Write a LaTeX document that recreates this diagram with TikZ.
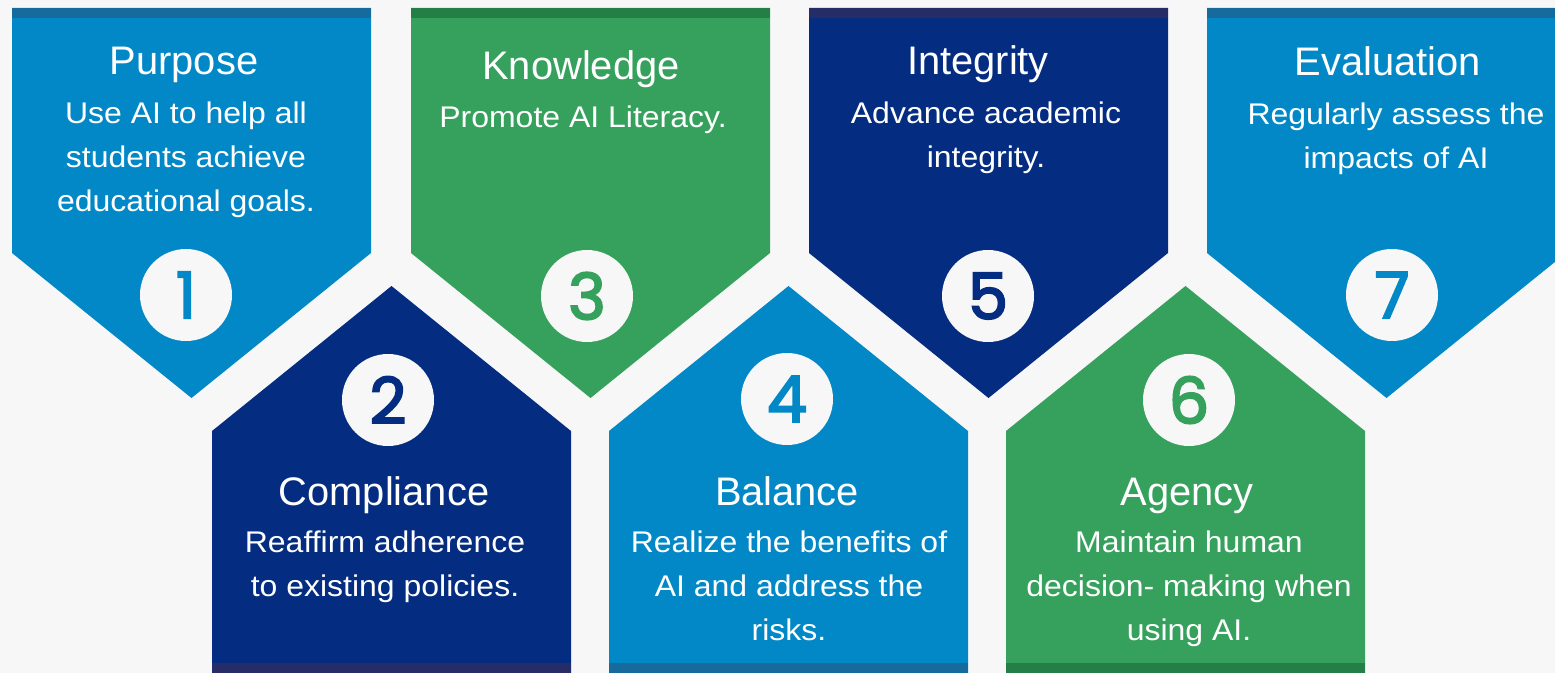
\documentclass[tikz,border=0pt]{standalone}
\usepackage{fontspec}
\setmainfont{Liberation Sans}
\newfontfamily\bodyfont{Liberation Sans}[FakeStretch=1.07]
\newfontfamily\numfont{Poppins}[FakeBold=3]
\definecolor{bgc}{HTML}{F7F7F7}
\definecolor{cblue}{HTML}{0288C6}
\definecolor{cbluestrip}{HTML}{176B9C}
\definecolor{cnavy}{HTML}{042C80}
\definecolor{cnavystrip}{HTML}{262D66}
\definecolor{cgreen}{HTML}{35A15C}
\definecolor{cgreenstrip}{HTML}{247F47}
\tikzset{
  ttl/.style={text=white, anchor=base, inner sep=0pt, font=\fontsize{40}{44}\selectfont},
  body/.style={text=white, anchor=base, inner sep=0pt, align=center, font=\bodyfont\fontsize{30}{44}\selectfont},
  numcirc/.style={circle, fill=bgc, minimum size=92bp, inner sep=0pt, font=\numfont\fontsize{64}{64}\selectfont},
}
\newcommand\TopShape[3]{%
  \fill[#2] (#1,8) -- ({#1+359},8) -- ({#1+359},253) -- ({#1+179.5},398) -- (#1,253) -- cycle;
  \fill[#3] (#1,8) rectangle ({#1+359},18);
}
\newcommand\BotShape[3]{%
  \fill[#2] (#1,673) -- (#1,431) -- ({#1+179.5},286) -- ({#1+359},431) -- ({#1+359},673) -- cycle;
  \fill[#3] (#1,663) rectangle ({#1+359},673);
}
\begin{document}
\begin{tikzpicture}[x=1bp,y=-1bp]
\useasboundingbox (0,0) rectangle (1555,673);
\clip (0,0) rectangle (1555,673);
\fill[bgc] (0,0) rectangle (1555,673);
% shapes
\TopShape{12}{cblue}{cbluestrip}
\TopShape{411}{cgreen}{cgreenstrip}
\TopShape{809}{cnavy}{cnavystrip}
\TopShape{1207}{cblue}{cbluestrip}
\BotShape{212}{cnavy}{cnavystrip}
\BotShape{609}{cblue}{cbluestrip}
\BotShape{1006}{cgreen}{cgreenstrip}
% 1 Purpose
\node[ttl] (t1) at (184,75) {Purpose};
\node[body] (b1) at (186,211) {Use AI to help all\\students achieve\\educational goals.};
\node[numcirc, text=cblue] (n1) at (186,295) {1};
% 3 Knowledge
\node[ttl] (t3) at (581,80) {Knowledge};
\node[body] (b3) at (583,128) {Promote AI Literacy.};
\node[numcirc, text=cgreen] (n3) at (587,296) {3};
% 5 Integrity
\node[ttl] (t5) at (978,75) {Integrity};
\node[body] (b5) at (986,167) {Advance academic\\integrity.};
\node[numcirc, text=cnavy] (n5) at (988,296) {5};
% 7 Evaluation
\node[ttl] (t7) at (1388,76) {Evaluation};
\node[body] (b7) at (1396,168) {Regularly assess the\\impacts of AI};
\node[numcirc, text=cblue] (n7) at (1392,295) {7};
% 2 Compliance
\node[numcirc, text=cnavy] (n2) at (388,400) {2};
\node[ttl] (t2) at (384,505) {Compliance};
\node[body] (b2) at (385,596) {Reaffirm adherence\\to existing policies.};
% 4 Balance
\node[numcirc, text=cblue] (n4) at (787,399) {4};
\node[ttl] (t4) at (787,505) {Balance};
\node[body] (b4) at (789,640) {Realize the benefits of\\AI and address the\\risks.};
% 6 Agency
\node[numcirc, text=cgreen] (n6) at (1189,400) {6};
\node[ttl] (t6) at (1187,505) {Agency};
\node[body] (b6) at (1189,640) {Maintain human\\decision- making when\\using AI.};
\end{tikzpicture}
\end{document}
